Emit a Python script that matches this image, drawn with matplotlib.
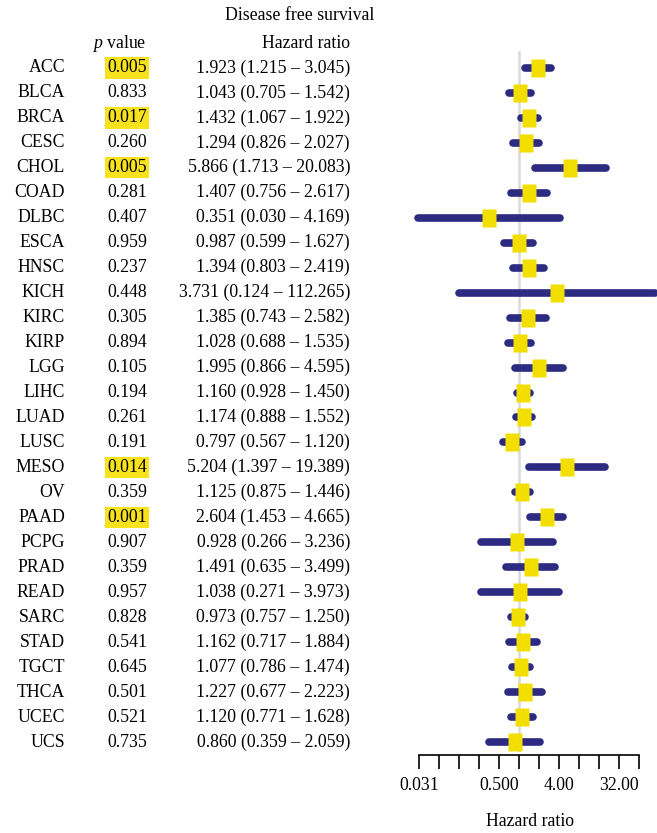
import numpy as np
import matplotlib
matplotlib.use("Agg")
import matplotlib.pyplot as plt
import matplotlib.transforms as mtransforms
from matplotlib.ticker import FixedLocator, FixedFormatter, NullLocator

plt.rcParams['font.family'] = ['Liberation Serif', 'DejaVu Serif']
plt.rcParams['mathtext.fontset'] = 'custom'
plt.rcParams['mathtext.rm'] = 'Liberation Serif'
plt.rcParams['mathtext.it'] = 'Liberation Serif:italic'

# data
cancers = ["ACC", "BLCA", "BRCA", "CESC", "CHOL", "COAD", "DLBC", "ESCA", "HNSC",
           "KICH", "KIRC", "KIRP", "LGG", "LIHC", "LUAD", "LUSC", "MESO", "OV",
           "PAAD", "PCPG", "PRAD", "READ", "SARC", "STAD", "TGCT", "THCA", "UCEC", "UCS"]
p_values = [0.005, 0.833, 0.017, 0.260, 0.005, 0.281, 0.407, 0.959, 0.237, 0.448,
            0.305, 0.894, 0.105, 0.194, 0.261, 0.191, 0.014, 0.359, 0.001, 0.907,
            0.359, 0.957, 0.828, 0.541, 0.645, 0.501, 0.521, 0.735]
hr = [1.923, 1.043, 1.432, 1.294, 5.866, 1.407, 0.351, 0.987, 1.394, 3.731,
      1.385, 1.028, 1.995, 1.160, 1.174, 0.797, 5.204, 1.125, 2.604, 0.928,
      1.491, 1.038, 0.973, 1.162, 1.077, 1.227, 1.120, 0.860]
hr_low = [1.215, 0.705, 1.067, 0.826, 1.713, 0.756, 0.030, 0.599, 0.803, 0.124,
          0.743, 0.688, 0.866, 0.928, 0.888, 0.567, 1.397, 0.875, 1.453, 0.266,
          0.635, 0.271, 0.757, 0.717, 0.786, 0.677, 0.771, 0.359]
hr_high = [3.045, 1.542, 1.922, 2.027, 20.083, 2.617, 4.169, 1.627, 2.419, 112.265,
           2.582, 1.535, 4.595, 1.450, 1.552, 1.120, 19.389, 1.446, 4.665, 3.236,
           3.499, 3.973, 1.250, 1.884, 1.474, 2.223, 1.628, 2.059]
tick_vals = [2.0 ** k for k in range(-5, 7)]
tick_text = {-5: "0.031", -1: "0.500", 2: "4.00", 5: "32.00"}

navy = "#2d2a82"
yellow = "#f2df00"
hl = "#f7e21b"
fs = 12.8

W, H = 657, 833
fig = plt.figure(figsize=(W / 100, H / 100), dpi=100)
ax = fig.add_axes([419 / W, 1 - 755 / H, 220 / W, (755 - 40) / H])
ax.set_xscale("log", base=2)
ax.set_xlim(2 ** -5, 2 ** 6)
ax.set_ylim(27.52, -1.12)

rows = np.arange(len(cancers))

# reference line at HR = 1
ax.plot([1, 1], [-0.65, 27.3], color="#d9d9d9", lw=1.8, zorder=1)

for i in rows:
    ax.plot([hr_low[i], hr_high[i]], [i, i], color=navy, lw=5.5,
            solid_capstyle="round", clip_on=False, zorder=2)

rect = [(-0.38, -0.5), (0.38, -0.5), (0.38, 0.5), (-0.38, 0.5), (-0.38, -0.5)]
ax.plot(hr, rows, ls="none", marker=rect, ms=12.5, mfc=yellow, mec="none",
        clip_on=False, zorder=3)

for s in ["top", "right", "left"]:
    ax.spines[s].set_visible(False)
ax.spines["bottom"].set_linewidth(1.2)
ax.yaxis.set_major_locator(NullLocator())
ax.xaxis.set_major_locator(FixedLocator(tick_vals))
ax.xaxis.set_minor_locator(NullLocator())
ax.xaxis.set_major_formatter(FixedFormatter(
    [tick_text.get(k, "") for k in range(-5, 7)]))
ax.tick_params(axis="x", direction="out", length=10, width=1.2, labelsize=fs, pad=6)

# table text, x in figure pixels, y in rows
tr = mtransforms.blended_transform_factory(fig.transFigure, ax.transData)
for i in rows:
    ax.text(65 / W, i, cancers[i], transform=tr, ha="right", va="center", fontsize=fs)
    box = None
    if p_values[i] < 0.05:
        box = dict(boxstyle="square,pad=0.12", fc=hl, ec="none")
    ax.text(147 / W, i, "%.3f" % p_values[i], transform=tr, ha="right",
            va="center", fontsize=fs, bbox=box)
    ax.text(350 / W, i, "%.3f (%.3f \u2013 %.3f)" % (hr[i], hr_low[i], hr_high[i]),
            transform=tr, ha="right", va="center", fontsize=fs)

fig.text(300 / W, 1 - 15 / H, "Disease free survival", ha="center", va="center", fontsize=fs)
fig.text(146 / W, 1 - 44 / H, "$p$ value", ha="right", va="center", fontsize=fs)
fig.text(350 / W, 1 - 44 / H, "Hazard ratio", ha="right", va="center", fontsize=fs)
fig.text(530 / W, 1 - 821 / H, "Hazard ratio", ha="center", va="center", fontsize=fs)

fig.savefig("out.png", dpi=100)
